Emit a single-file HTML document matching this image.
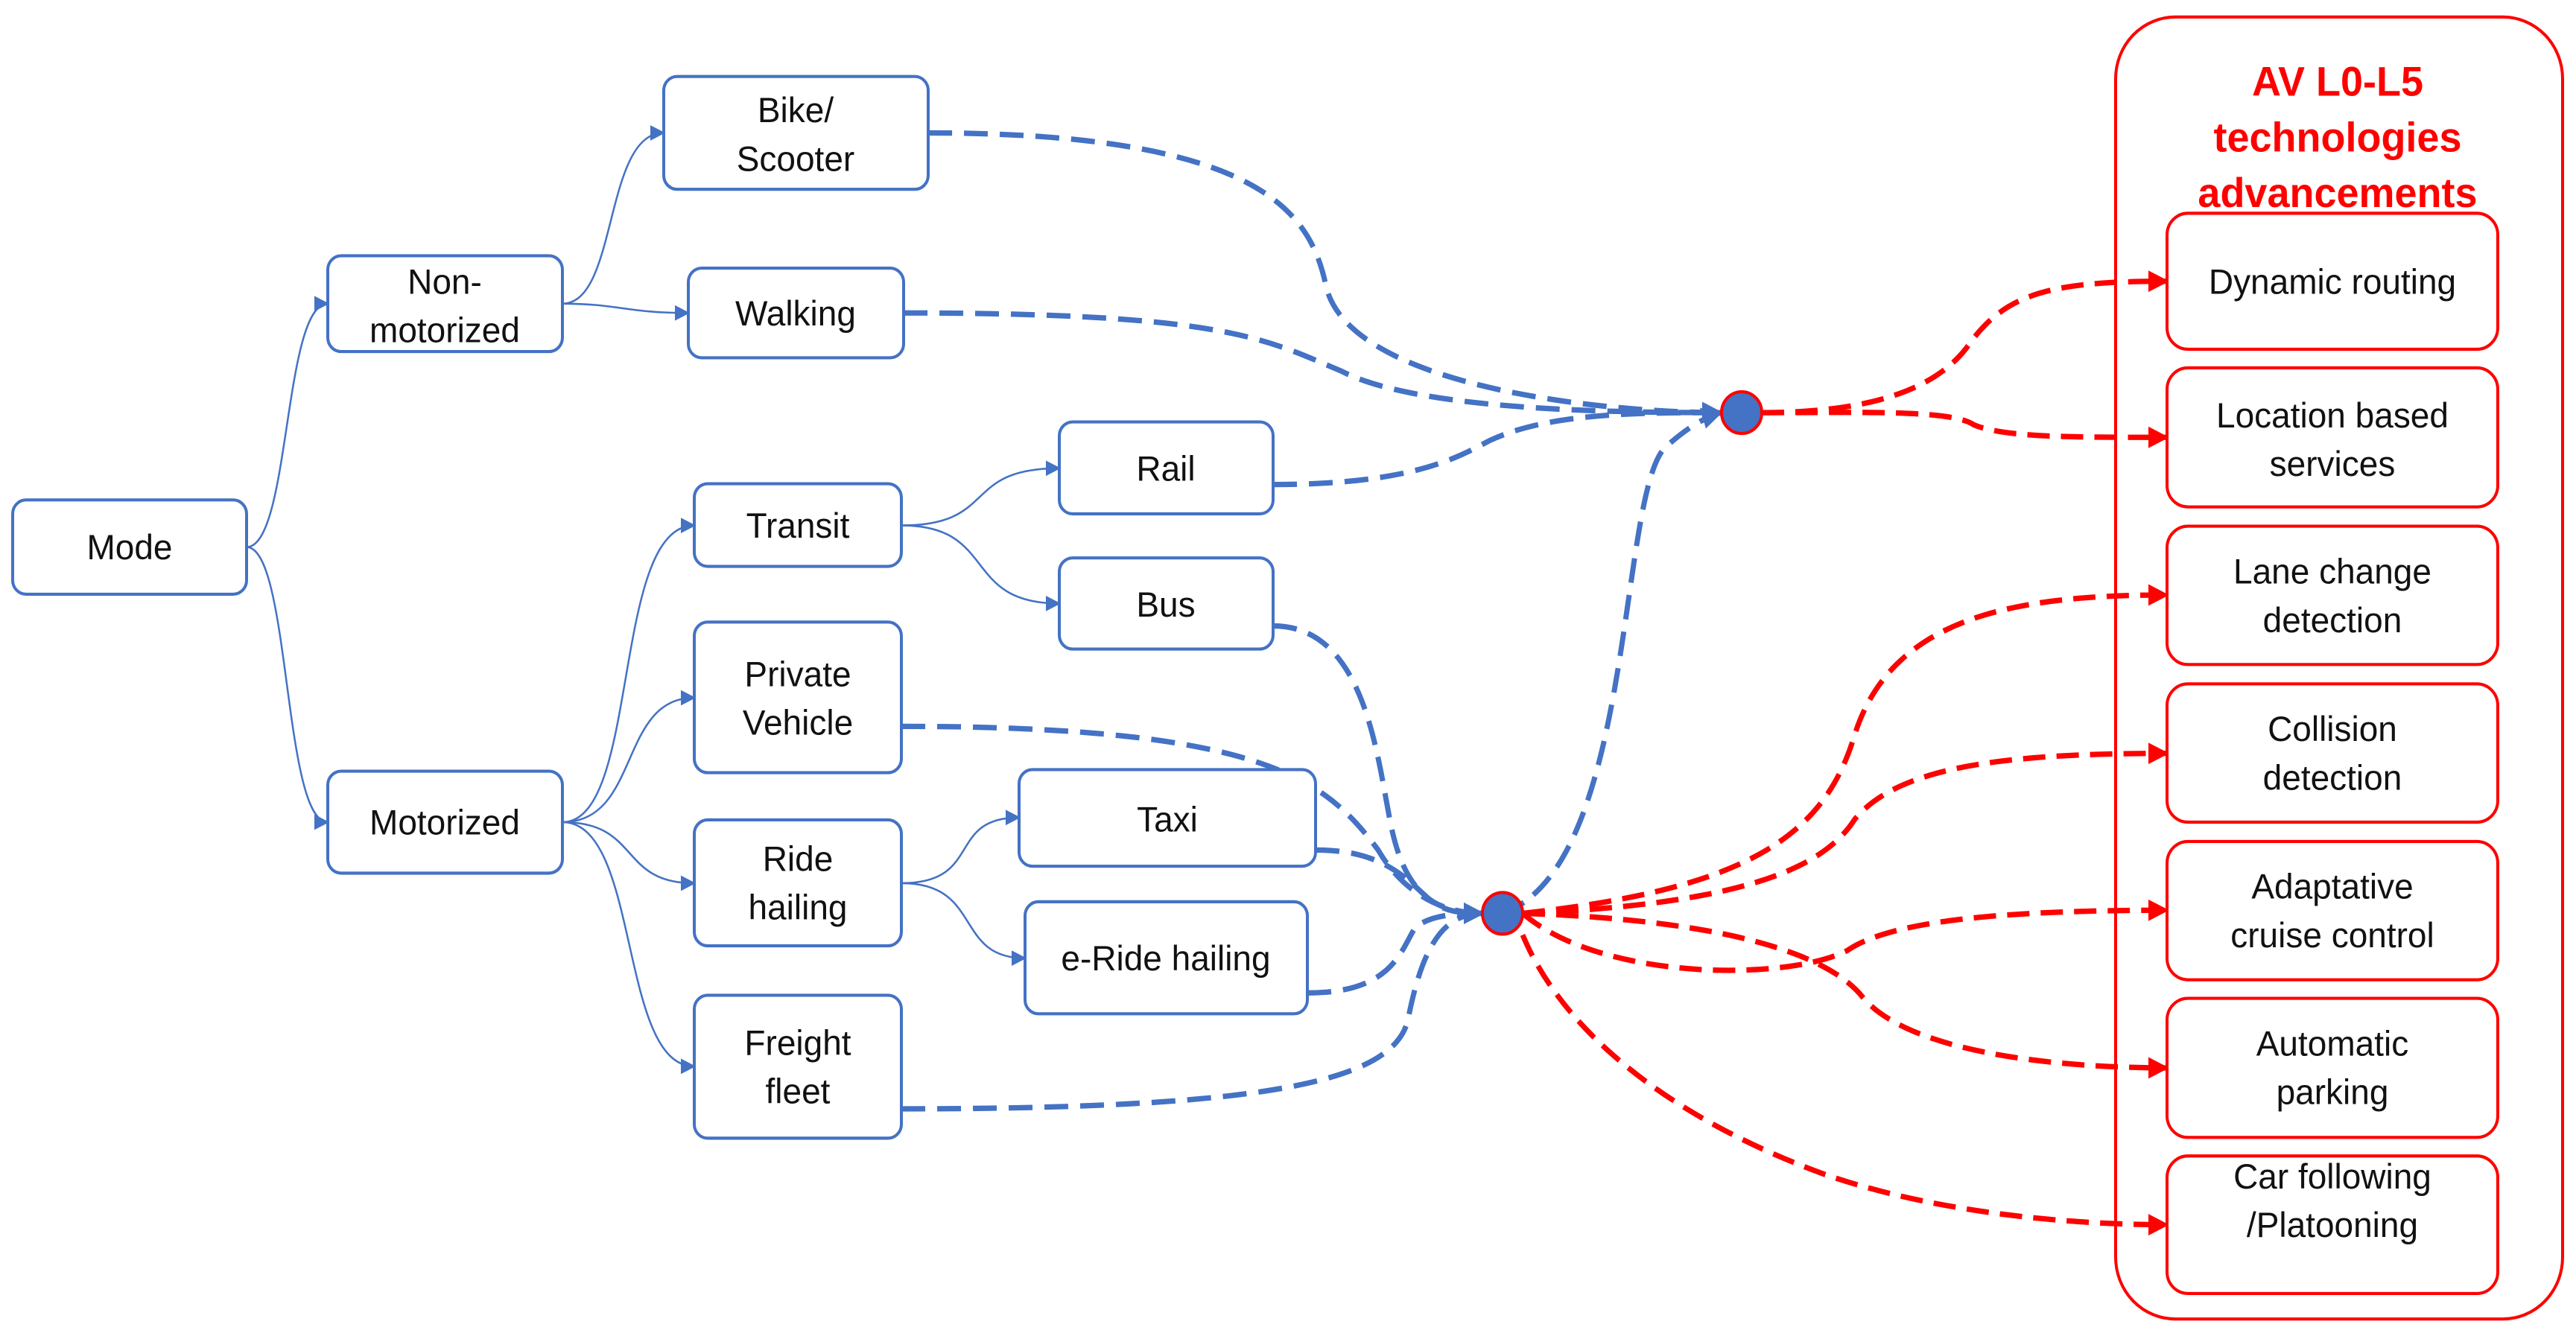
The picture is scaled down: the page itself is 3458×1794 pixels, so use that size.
<!DOCTYPE html>
<html><head><meta charset="utf-8"><style>
html,body{margin:0;padding:0;background:#fff;}
svg{display:block;}
text{font-family:"Liberation Sans",sans-serif;}
</style></head><body>
<svg width="3458" height="1794" viewBox="0 0 3458 1794" xmlns="http://www.w3.org/2000/svg">
<defs>
<marker id="ab" viewBox="0 0 10 10" refX="9" refY="5" markerWidth="20" markerHeight="20" markerUnits="userSpaceOnUse" orient="auto"><path d="M0,0L10,5L0,10z" fill="#4472C4"/></marker>
<marker id="ab2" viewBox="0 0 10 10" refX="9" refY="5" markerWidth="4" markerHeight="4" orient="auto"><path d="M0,0L10,5L0,10z" fill="#4472C4"/></marker>
<marker id="ar" viewBox="0 0 10 10" refX="9" refY="5" markerWidth="4" markerHeight="4" orient="auto"><path d="M0,0L10,5L0,10z" fill="#FF0000"/></marker>
</defs>
<rect width="3458" height="1794" fill="#fff"/>
<g transform="scale(1,1.0376)">

<g fill="none" stroke="#4472C4" stroke-width="2.5" marker-end="url(#ab)">
<path d="M331,708 C390,708 380,393 440,393"/>
<path d="M331,708 C390,708 380,1064 440,1064"/>
<path d="M755,393 C830,393 810,172 891,172"/>
<path d="M755,393 C830,393 840,405 924,405"/>
<path d="M755,1064 C860,1064 820,680 932,680"/>
<path d="M755,1064 C860,1064 830,903 932,903"/>
<path d="M755,1064 C860,1064 830,1143 932,1143"/>
<path d="M755,1064 C860,1064 830,1380 932,1380"/>
<path d="M1210,680 C1340,680 1290,606 1422,606"/>
<path d="M1210,680 C1340,680 1290,781 1422,781"/>
<path d="M1210,1143 C1320,1143 1270,1058 1368,1058"/>
<path d="M1210,1143 C1320,1143 1280,1240 1376,1240"/>
</g>

<g fill="none" stroke="#4472C4" stroke-width="7" stroke-dasharray="32,16" marker-end="url(#ab2)">
<path d="M1246,172 C1700,172 1760,280 1780,370 C1810,500 2150,534 2310,534"/>
<path d="M1213,405 C1650,405 1700,440 1800,480 C1900,530 2150,534 2310,534"/>
<path d="M1709,627 C1900,627 1960,590 2000,570 C2080,534 2200,534 2310,534"/>
<path d="M2017,1182 C2200,1120 2170,620 2240,575 C2270,550 2290,540 2310,534"/>
<path d="M1709,810 C1840,810 1850,1000 1870,1080 C1890,1160 1930,1182 1990,1182"/>
<path d="M1210,940 C1700,940 1780,1010 1850,1100 C1880,1150 1930,1182 1990,1182"/>
<path d="M1766,1100 C1860,1100 1890,1140 1920,1165 C1940,1180 1960,1182 1990,1182"/>
<path d="M1755,1285 C1870,1285 1880,1230 1900,1200 C1920,1185 1950,1182 1990,1182"/>
<path d="M1210,1435 C1700,1435 1870,1400 1890,1320 C1910,1220 1940,1182 1990,1182"/>
</g>

<g fill="none" stroke="#FF0000" stroke-width="7" stroke-dasharray="30,15" marker-end="url(#ar)">
<path d="M2365,534 C2520,534 2600,500 2640,450 C2690,380 2750,364 2909,364"/>
<path d="M2365,534 C2500,534 2620,530 2650,550 C2690,566 2780,566 2909,566"/>
<path d="M2044,1182 C2350,1150 2450,1080 2490,950 C2540,800 2700,770 2909,770"/>
<path d="M2044,1182 C2350,1170 2450,1120 2490,1060 C2550,990 2700,975 2909,975"/>
<path d="M2044,1182 C2150,1270 2400,1270 2480,1230 C2540,1190 2700,1178 2909,1178"/>
<path d="M2044,1182 C2300,1190 2450,1230 2500,1290 C2560,1360 2750,1382 2909,1382"/>
<path d="M2044,1210 C2100,1340 2250,1450 2450,1520 C2600,1570 2780,1585 2909,1585"/>
</g>

<circle cx="2338" cy="534" r="27" fill="#4472C4" stroke="#FF0000" stroke-width="4"/>
<circle cx="2017" cy="1182" r="27" fill="#4472C4" stroke="#FF0000" stroke-width="4"/>

<g fill="#fff" stroke="#4472C4" stroke-width="4">
<rect x="17" y="647" width="314" height="122" rx="18"/>
<rect x="440" y="331" width="315" height="124" rx="18"/>
<rect x="440" y="998" width="315" height="132" rx="18"/>
<rect x="891" y="99" width="355" height="146" rx="18"/>
<rect x="924" y="347" width="289" height="116" rx="18"/>
<rect x="932" y="626" width="278" height="107" rx="18"/>
<rect x="932" y="805" width="278" height="195" rx="18"/>
<rect x="932" y="1061" width="278" height="163" rx="18"/>
<rect x="932" y="1288" width="278" height="185" rx="18"/>
<rect x="1422" y="546" width="287" height="119" rx="18"/>
<rect x="1422" y="722" width="287" height="118" rx="18"/>
<rect x="1368" y="996" width="398" height="125" rx="18"/>
<rect x="1376" y="1167" width="379" height="145" rx="18"/>
</g>
<g font-size="46" fill="#111" text-anchor="middle">
<text x="174" y="724">Mode</text>
<text x="597" y="380">Non-</text><text x="597" y="443">motorized</text>
<text x="597" y="1080">Motorized</text>
<text x="1068" y="158">Bike/</text><text x="1068" y="221">Scooter</text>
<text x="1068" y="421">Walking</text>
<text x="1071" y="696">Transit</text>
<text x="1071" y="888">Private</text><text x="1071" y="951">Vehicle</text>
<text x="1071" y="1127">Ride</text><text x="1071" y="1190">hailing</text>
<text x="1071" y="1365">Freight</text><text x="1071" y="1428">fleet</text>
<text x="1565" y="622">Rail</text>
<text x="1565" y="798">Bus</text>
<text x="1567" y="1076">Taxi</text>
<text x="1565" y="1256">e-Ride hailing</text>
</g>

<rect x="2840" y="22" width="600" height="1685" rx="80" fill="none" stroke="#FF0000" stroke-width="4"/>
<g font-size="54" font-weight="bold" fill="#FF0000" text-anchor="middle">
<text x="3138" y="124">AV L0-L5</text>
<text x="3138" y="196">technologies</text>
<text x="3138" y="268">advancements</text>
</g>
<g fill="#fff" stroke="#FF0000" stroke-width="4">
<rect x="2909" y="276" width="444" height="176" rx="28"/>
<rect x="2909" y="476" width="444" height="180" rx="28"/>
<rect x="2909" y="681" width="444" height="179" rx="28"/>
<rect x="2909" y="885" width="444" height="179" rx="28"/>
<rect x="2909" y="1089" width="444" height="179" rx="28"/>
<rect x="2909" y="1292" width="444" height="180" rx="28"/>
<rect x="2909" y="1496" width="444" height="178" rx="28"/>
</g>
<g font-size="46" fill="#111" text-anchor="middle">
<text x="3131" y="380">Dynamic routing</text>
<text x="3131" y="553">Location based</text><text x="3131" y="616">services</text>
<text x="3131" y="755">Lane change</text><text x="3131" y="818">detection</text>
<text x="3131" y="959">Collision</text><text x="3131" y="1022">detection</text>
<text x="3131" y="1163">Adaptative</text><text x="3131" y="1226">cruise control</text>
<text x="3131" y="1366">Automatic</text><text x="3131" y="1429">parking</text>
<text x="3131" y="1538">Car following</text><text x="3131" y="1601">/Platooning</text>
</g>
</g>
</svg>
</body></html>
